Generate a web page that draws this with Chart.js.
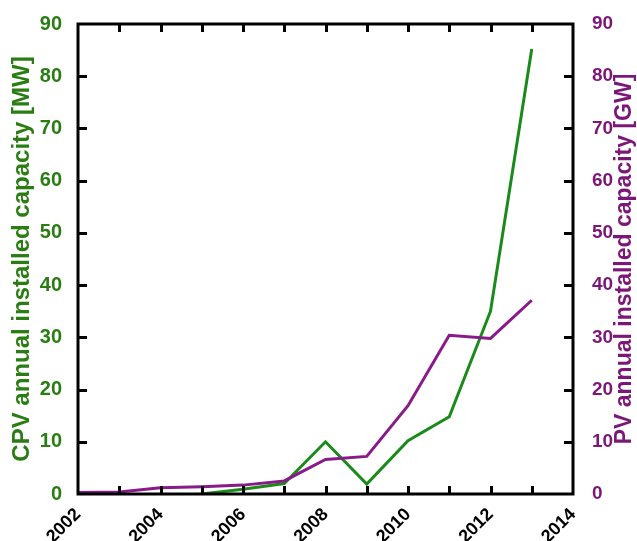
<!DOCTYPE html>
<html>
<head>
<meta charset="utf-8">
<script src="https://cdn.jsdelivr.net/npm/chart.js@4/dist/chart.umd.min.js"></script>
<style>
  html, body { margin: 0; padding: 0; background: #fff; }
  #wrap { width: 637px; height: 541px; }
</style>
</head>
<body>
<div id="wrap"><canvas id="c" width="637" height="541"></canvas></div>
<script>
// Annual installed capacity, CPV (MW, left axis) and PV (GW, right axis)
const years = [2002, 2003, 2004, 2005, 2006, 2007, 2008, 2009, 2010, 2011, 2012, 2013];
const cpvMW = [null, null, null, 0, 0.9, 2.0, 10.0, 1.9, 10.2, 14.8, 35.0, 85.2];
const pvGW  = [0.3, 0.4, 1.2, 1.4, 1.7, 2.5, 6.6, 7.2, 16.9, 30.4, 29.8, 37.1];

const xMin = 2002, xMax = 2014, xStep = 2;
const yMin = 0, yMax = 90, yStep = 10;

const GREEN = '#1a8a1a';
const GREEN_TEXT = '#2a7d12';
const PURPLE = '#8a1a8a';
const PURPLE_TEXT = '#7a1777';
const FONT = '"Liberation Sans", Arial, sans-serif';

const toPoints = vals => years.map((yr, i) => ({ x: yr, y: vals[i] })).filter(p => p.y !== null);

// Frame around the plot with inward ticks on all four sides, plus the right axis title
const framePlugin = {
  id: 'frame',
  afterDraw(chart) {
    const { ctx, chartArea: a, scales } = chart;
    const xs = scales.x, yl = scales.y;
    ctx.save();
    ctx.strokeStyle = '#000';
    ctx.lineWidth = 3;
    ctx.lineCap = 'butt';
    ctx.strokeRect(a.left, a.top, a.right - a.left, a.bottom - a.top);
    ctx.beginPath();
    for (let yr = xMin + 1; yr < xMax; yr++) {
      const px = Math.round(xs.getPixelForValue(yr)) + 0.5;
      ctx.moveTo(px, a.top); ctx.lineTo(px, a.top + 8);
      ctx.moveTo(px, a.bottom); ctx.lineTo(px, a.bottom - 8);
    }
    for (let v = yMin + yStep; v < yMax; v += yStep) {
      const py = Math.round(yl.getPixelForValue(v)) + 0.5;
      ctx.moveTo(a.left, py); ctx.lineTo(a.left + 9, py);
      ctx.moveTo(a.right, py); ctx.lineTo(a.right - 9, py);
    }
    ctx.stroke();

    // right axis title, reading bottom to top
    ctx.translate(625, (a.top + a.bottom) / 2);
    ctx.rotate(-Math.PI / 2);
    ctx.fillStyle = PURPLE_TEXT;
    ctx.font = 'bold 23px ' + FONT;
    ctx.textAlign = 'center';
    ctx.textBaseline = 'middle';
    ctx.fillText('PV annual installed capacity [GW]', 0, 0);
    ctx.restore();
  }
};

new Chart(document.getElementById('c'), {
  type: 'line',
  data: {
    datasets: [
      {
        label: 'PV',
        data: toPoints(pvGW),
        yAxisID: 'y1',
        borderColor: PURPLE,
        borderWidth: 3,
        pointRadius: 0,
        tension: 0,
        fill: false
      },
      {
        label: 'CPV',
        data: toPoints(cpvMW),
        yAxisID: 'y',
        borderColor: GREEN,
        borderWidth: 3,
        pointRadius: 0,
        tension: 0,
        fill: false
      }
    ]
  },
  options: {
    responsive: false,
    animation: false,
    events: [],
    layout: { padding: { top: 24, left: 0, right: 0, bottom: 0 } },
    plugins: { legend: { display: false }, tooltip: { enabled: false } },
    scales: {
      x: {
        type: 'linear',
        min: xMin, max: xMax,
        grid: { display: false },
        border: { display: false },
        afterFit(s) { s.height = 47; },
        ticks: {
          stepSize: xStep,
          minRotation: 45, maxRotation: 45,
          padding: 2,
          color: '#000',
          font: { family: FONT, size: 18, weight: 'bold' },
          callback: v => String(v)
        }
      },
      y: {
        position: 'left',
        min: yMin, max: yMax,
        grid: { display: false },
        border: { display: false },
        afterFit(s) { s.width = 78; },
        ticks: {
          stepSize: yStep,
          padding: 8,
          color: GREEN_TEXT,
          font: { family: FONT, size: 20, weight: 'bold' }
        },
        title: {
          display: true,
          text: 'CPV annual installed capacity [MW]',
          color: GREEN_TEXT,
          font: { family: FONT, size: 24, weight: 'bold' },
          padding: { top: 8, bottom: 0 }
        }
      },
      y1: {
        position: 'right',
        min: yMin, max: yMax,
        grid: { display: false },
        border: { display: false },
        afterFit(s) { s.width = 64; },
        ticks: {
          stepSize: yStep,
          padding: 11,
          color: PURPLE_TEXT,
          font: { family: FONT, size: 19, weight: 'bold' }
        }
      }
    }
  },
  plugins: [framePlugin]
});
</script>
</body>
</html>
